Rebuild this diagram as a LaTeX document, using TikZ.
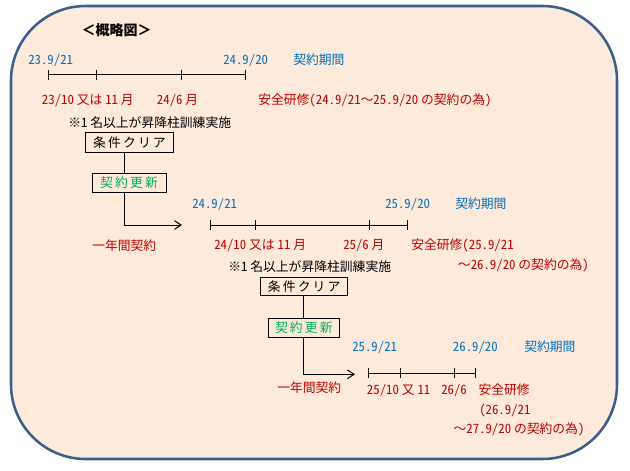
\documentclass[tikz,border=0pt]{standalone}
\usepackage{fontspec}
\setmainfont{Noto Sans CJK JP}
\newfontfamily\hw[RawFeature=+hwid]{Noto Sans CJK JP}
\newcommand\hh[1]{{\hw #1}}
\usetikzlibrary{arrows.meta}
\definecolor{bg}{HTML}{FDEADA}
\definecolor{bd}{HTML}{3A5F8E}
\definecolor{tblue}{HTML}{0070C0}
\definecolor{tred}{HTML}{C00000}
\definecolor{tgreen}{HTML}{00B050}
\tikzset{
  txt/.style={anchor=west,inner sep=0pt,text height=8.4pt,text depth=1.2pt,font=\fontsize{9.6}{11}\selectfont},
  bl/.style={txt,text=tblue},
  rd/.style={txt,text=tred},
  bk/.style={txt,text=black},
  box/.style={draw=black,line width=0.75pt,inner sep=0pt,font=\fontsize{9.6}{11}\selectfont},
  tl/.style={line width=0.75pt,draw=black},
  arr/.style={tl,-{Straight Barb[length=5pt,width=6.5pt,line width=0.75pt]}}
}
\begin{document}
\begin{tikzpicture}[x=0.75pt,y=-0.75pt]
\useasboundingbox (0,0) rectangle (630,470);
\fill[white] (0,0) rectangle (630,470);
\draw[fill=bg,draw=bd,line width=1.9pt,rounded corners=56pt] (11,6) rectangle (617,459);

% title
\node[inner sep=0pt,font=\fontsize{10.5}{12}\selectfont\bfseries] (title) at (116.5,30) {＜概略図＞};

% ---------- timeline 1 ----------
\node[bl] (d1a) at (28,60) {\hh{23.9/21}};
\node[bl] (d1b) at (223,60) {\hh{24.9/20}};
\node[bl] (k1) at (293,60) {契約期間};
\draw[tl] (48.7,75) -- (245.7,75);
\foreach \x in {48.7,96.3,181.3,245.7} \draw[tl] (\x,70) -- (\x,80);
\node[rd] (r1a) at (41.7,100) {\hh{23/10} 又は \hh{11} 月};
\node[rd] (r1b) at (156.7,100) {\hh{24/6} 月};
\node[rd] (r1c) at (258,100) {安全研修\hh{(24.9/21}～\hh{25.9/20} の契約の為\hh{)}};
\node[bk] (n1) at (68,123) {※\hh{1} 名以上が昇降柱訓練実施};
\node[box,minimum width=65.3pt,minimum height=14.3pt] (b1) at (129.5,142.5) {条\,件\,ク\,リ\,ア};
\node[box,minimum width=55.5pt,minimum height=13.5pt,text=tgreen] (c1) at (129,183) {契\,約\,更\,新};
\coordinate (v1) at (124.3,0);
\coordinate (e1) at (182,225);
\draw[tl] (b1.south -| v1) -- (c1.north -| v1);
\draw[arr] (c1.south -| v1) |- (e1);
\node[rd] (y1) at (92,246) {一年間契約};

% ---------- timeline 2 ----------
\node[bl] (d2a) at (192,204) {\hh{24.9/21}};
\node[bl] (d2b) at (385,204) {\hh{25.9/20}};
\node[bl] (k2) at (455,204) {契約期間};
\draw[tl] (210.7,225) -- (407.3,225);
\foreach \x in {210.7,255.3,369,407.3} \draw[tl] (\x,220) -- (\x,230);
\node[rd] (r2a) at (214,245) {\hh{24/10} 又は \hh{11} 月};
\node[rd] (r2b) at (343,245) {\hh{25/6} 月};
\node[rd] (r2c) at (411,245) {安全研修\hh{(25.9/21}};
\node[rd] (r2d) at (457.7,265) {～\hh{26.9/20} の契約の為\hh{)}};
\node[bk] (n2) at (228,266.7) {※\hh{1} 名以上が昇降柱訓練実施};
\node[box,minimum width=65.3pt,minimum height=13.3pt] (b2) at (304.2,286.2) {条\,件\,ク\,リ\,ア};
\node[box,minimum width=53.3pt,minimum height=14.3pt,text=tgreen] (c2) at (303.8,327.8) {契\,約\,更\,新};
\coordinate (v2) at (303.3,0);
\coordinate (e2) at (355,374.3);
\draw[tl] (b2.south -| v2) -- (c2.north -| v2);
\draw[arr] (c2.south -| v2) |- (e2);
\node[rd] (y2) at (277,388) {一年間契約};

% ---------- timeline 3 ----------
\node[bl] (d3a) at (352,347) {\hh{25.9/21}};
\node[bl] (d3b) at (452.7,347) {\hh{26.9/20}};
\node[bl] (k3) at (524,347) {契約期間};
\draw[tl] (368.3,373.3) -- (475.7,373.3);
\foreach \x in {368.3,400.7,454.3,475.7} \draw[tl] (\x,368.3) -- (\x,378.3);
\node[rd] (r3a) at (366.7,389.3) {\hh{25/10} 又 \hh{11}};
\node[rd] (r3b) at (441,389.3) {\hh{26/6}};
\node[rd] (r3c) at (478.3,389.3) {安全研修};
\node[rd] (r3d) at (479,410) {\hh{(26.9/21}};
\node[rd] (r3e) at (453.3,429) {～\hh{27.9/20} の契約の為\hh{)}};
\end{tikzpicture}
\end{document}
